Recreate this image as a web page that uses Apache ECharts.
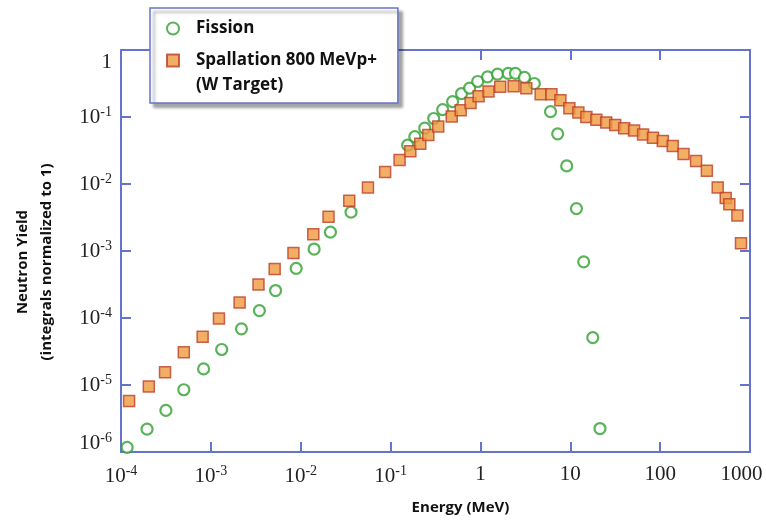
<!DOCTYPE html>
<html>
<head>
<meta charset="utf-8">
<script src="https://cdn.jsdelivr.net/npm/echarts@6/dist/echarts.min.js"></script>
<style>
  html, body { margin: 0; padding: 0; background: #fff; }
</style>
</head>
<body>
<div id="chart" style="width: 766px; height: 520px"></div>
<script>
// Fission spectrum (energy MeV, yield)
const fissionE = [1.17e-4, 1.95e-4, 3.16e-4, 5.0e-4, 8.3e-4, 1.32e-3, 2.19e-3, 3.47e-3, 5.25e-3, 8.9e-3,
  1.41e-2, 2.14e-2, 3.63e-2, 0.155, 0.186, 0.24, 0.302, 0.38, 0.49, 0.617, 0.759, 0.933, 1.2, 1.55,
  2.04, 2.45, 3.09, 3.98, 6.03, 7.24, 9.12, 11.7, 14.1, 17.8, 21.4];
const fissionY = [1.17e-6, 2.19e-6, 4.17e-6, 8.5e-6, 1.74e-5, 3.39e-5, 6.9e-5, 1.29e-4, 2.57e-4, 5.5e-4,
  1.07e-3, 1.91e-3, 3.8e-3, 0.038, 0.051, 0.068, 0.095, 0.129, 0.17, 0.224, 0.269, 0.339, 0.398, 0.437,
  0.447, 0.447, 0.389, 0.316, 0.12, 0.056, 0.0186, 0.0043, 6.9e-4, 5.1e-5, 2.24e-6];

// Spallation 800 MeV p+ on W target
const spallE = [1.23e-4, 2.04e-4, 3.09e-4, 5.0e-4, 8.1e-4, 1.23e-3, 2.09e-3, 3.39e-3, 5.13e-3, 8.3e-3,
  1.38e-2, 2.04e-2, 3.47e-2, 5.6e-2, 8.7e-2, 0.126, 0.166, 0.214, 0.263, 0.339, 0.479, 0.603, 0.776,
  0.955, 1.23, 1.66, 2.34, 3.24, 4.68, 6.17, 7.76, 9.77, 12.3, 15.1, 19.5, 25.1, 31.6, 39.8, 51.3,
  64.6, 83.2, 107, 138, 182, 251, 331, 437, 537, 589, 724, 794];
const spallY = [5.75e-6, 9.5e-6, 1.55e-5, 3.09e-5, 5.25e-5, 9.8e-5, 1.7e-4, 3.16e-4, 5.37e-4, 9.3e-4,
  1.78e-3, 3.24e-3, 5.6e-3, 8.9e-3, 1.51e-2, 2.29e-2, 3.09e-2, 3.98e-2, 5.37e-2, 7.24e-2, 0.102, 0.126,
  0.162, 0.204, 0.24, 0.282, 0.288, 0.269, 0.219, 0.219, 0.178, 0.135, 0.117, 0.1, 0.091, 0.083, 0.076,
  0.068, 0.063, 0.055, 0.049, 0.044, 0.037, 0.028, 0.022, 0.0158, 0.0089, 0.0062, 0.005, 0.0034, 0.0013];

const seriesNames = ["Fission", "Spallation 800 MeVp+\n(W Target)"];

const xMin = 1e-4, xMax = 1000;
const yMin = 1e-6, yMax = 1;

const axisBlue = "#6474cc";
const serif = "Liberation Serif";

function pairs(xs, ys) {
  return xs.map(function (x, i) { return [x, ys[i]]; });
}

function expOf(v) {
  return Math.round(Math.log10(v));
}

const labelRich = {
  n: { fontFamily: serif, fontSize: 21, color: "#222" },
  s: { fontFamily: serif, fontSize: 14, color: "#222", padding: [0, 0, 10, 0] },
  last: { fontFamily: serif, fontSize: 21, color: "#222", padding: [0, 17, 0, 0] },
  top: { fontFamily: serif, fontSize: 21, color: "#222", padding: [24, 0, 0, 0] },
  lo: { fontFamily: serif, fontSize: 21, color: "#222", padding: [0, 0, 18, 0] },
  los: { fontFamily: serif, fontSize: 14, color: "#222", padding: [0, 0, 28, 0] },
};

function xLabel(v) {
  const e = expOf(v);
  if (e === 3) return "{last|1000}";
  if (e >= 0) return "{n|" + Math.pow(10, e) + "}";
  return "{n|10}{s|" + e + "}";
}

function yLabel(v) {
  const e = expOf(v);
  if (e === 0) return "{top|1}";
  if (e === -6) return "{lo|10}{los|" + e + "}";
  return "{n|10}{s|" + e + "}";
}

const chart = echarts.init(document.getElementById("chart"));
const option = {
  animation: false,
  backgroundColor: "#fff",
  grid: { left: 121, right: 16, top: 50, bottom: 68, containLabel: false, outerBoundsMode: "none" },
  legend: {
    left: 150,
    top: 8,
    orient: "vertical",
    padding: [8, 21, 5, 16],
    itemGap: -18,
    itemWidth: 12,
    itemHeight: 12,
    backgroundColor: "#fff",
    borderColor: axisBlue,
    borderWidth: 1.5,
    borderRadius: 0,
    shadowColor: "rgba(0,0,0,0.35)",
    shadowBlur: 3,
    shadowOffsetX: 4,
    shadowOffsetY: 4,
    // leading blank line keeps the icon level with the first line of a two-line name
    formatter: function (name) {
      return name.indexOf("\n") >= 0 ? "\n" + name : name;
    },
    textStyle: {
      fontFamily: "Open Sans",
      fontWeight: "bold",
      fontSize: 17,
      lineHeight: 25,
      color: "#111",
      padding: [0, 0, 0, 12],
    },
    data: seriesNames,
  },
  graphic: [
    {
      type: "text",
      x: 35,
      y: 262,
      rotation: Math.PI / 2,
      style: {
        text: "Neutron Yield\n(integrals normalized to 1)",
        fontFamily: "Open Sans",
        fontWeight: "bold",
        fontSize: 15,
        lineHeight: 24,
        align: "center",
        verticalAlign: "middle",
        fill: "#111",
      },
    },
  ],
  xAxis: [
    {
      type: "log",
      logBase: 10,
      min: xMin,
      max: xMax,
      name: "Energy (MeV)",
      nameLocation: "middle",
      nameGap: 48,
      nameTextStyle: { fontFamily: "Open Sans", fontWeight: "bold", fontSize: 15, color: "#111", padding: [0, 0, 0, 50] },
      axisLine: { lineStyle: { color: axisBlue, width: 2 } },
      axisTick: { inside: true, length: 10, lineStyle: { color: axisBlue, width: 2 } },
      axisLabel: { margin: 12, formatter: xLabel, rich: labelRich },
      splitLine: { show: false },
      minorTick: { show: false },
    },
    {
      type: "log",
      logBase: 10,
      min: xMin,
      max: xMax,
      position: "top",
      axisLine: { lineStyle: { color: axisBlue, width: 2 } },
      axisTick: { inside: true, length: 10, lineStyle: { color: axisBlue, width: 2 } },
      axisLabel: { show: false },
      splitLine: { show: false },
    },
  ],
  yAxis: [
    {
      type: "log",
      logBase: 10,
      min: yMin,
      max: yMax,
      axisLine: { lineStyle: { color: axisBlue, width: 2 } },
      axisTick: { inside: true, length: 10, lineStyle: { color: axisBlue, width: 2 } },
      axisLabel: { margin: 9, formatter: yLabel, rich: labelRich },
      splitLine: { show: false },
      minorTick: { show: false },
    },
    {
      type: "log",
      logBase: 10,
      min: yMin,
      max: yMax,
      position: "right",
      axisLine: { lineStyle: { color: axisBlue, width: 2 } },
      axisTick: { inside: true, length: 10, lineStyle: { color: axisBlue, width: 2 } },
      axisLabel: { show: false },
      splitLine: { show: false },
    },
  ],
  series: [
    {
      name: seriesNames[0],
      type: "scatter",
      xAxisIndex: 0,
      yAxisIndex: 0,
      symbol: "circle",
      symbolSize: 11,
      itemStyle: { color: "#fff", borderColor: "#30a030", borderWidth: 2.2 },
      data: pairs(fissionE, fissionY),
    },
    {
      name: seriesNames[1],
      type: "scatter",
      xAxisIndex: 0,
      yAxisIndex: 0,
      symbol: "rect",
      symbolSize: 11,
      itemStyle: { color: "#f09a40", borderColor: "#bb3f28", borderWidth: 1.5 },
      data: pairs(spallE, spallY),
    },
  ],
};
chart.setOption(option);
</script>
</body>
</html>
